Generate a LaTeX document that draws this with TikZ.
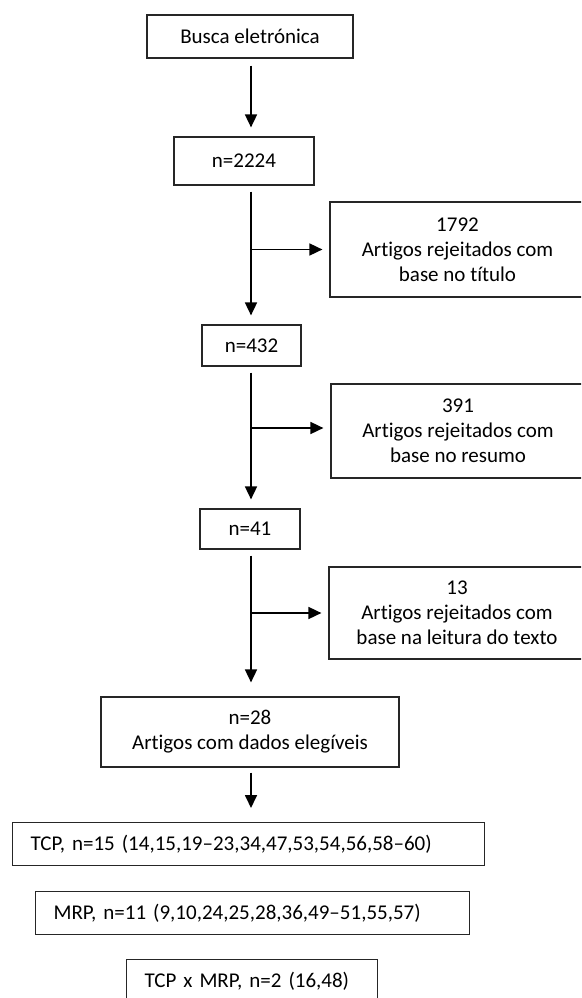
\documentclass[tikz,border=0pt]{standalone}
\usepackage{fontspec}
\setmainfont[Ligatures=NoCommon]{Carlito}
\usetikzlibrary{arrows.meta}
\frenchspacing
\begin{document}
\begin{tikzpicture}[x=1pt,y=-1pt,
  box/.style={draw=black!85, line width=1.2pt, inner sep=0pt, align=center, font=\fontsize{21}{25}\selectfont\frenchspacing},
  lbox/.style={box, anchor=north west, align=left, inner xsep=18pt, minimum height=43pt},
  arr/.style={line width=1.7pt, -{Triangle[length=13pt,width=12pt]}}]
\useasboundingbox (0,0) rectangle (581,998);
\clip (0,0) rectangle (581,998);
\coordinate (sp) at (251,0);
\node[box, minimum width=206pt, minimum height=43pt] (b1) at (250,36.5) {Busca eletrónica};
\node[box, minimum width=140pt, minimum height=48pt] (b2) at (244,161) {n=2224};
\node[box, minimum width=99pt, minimum height=41pt] (b3) at (251.5,345.5) {n=432};
\node[box, minimum width=100pt, minimum height=40pt] (b4) at (250,529) {n=41};
\node[box, minimum width=298pt, minimum height=70pt] (b5) at (250,732) {n=28\\Artigos com dados elegíveis};
\node[box, minimum width=255pt, minimum height=95pt] (s1) at (457.5,249.5) {1792\\Artigos rejeitados com\\base no título};
\node[box, minimum width=254pt, minimum height=94pt] (s2) at (458,431) {391\\Artigos rejeitados com\\base no resumo};
\node[box, minimum width=256pt, minimum height=92pt] (s3) at (457,613) {13\\Artigos rejeitados com\\base na leitura do texto};
\node[lbox, text width=436pt] (t1) at (12,822) {TCP, n=15 (14,15,19–23,34,47,53,54,56,58–60)};
\node[lbox, text width=398pt] (t2) at (35,891) {MRP, n=11 (9,10,24,25,28,36,49–51,55,57)};
\node[lbox, text width=215pt] (t3) at (126,959) {TCP x MRP, n=2 (16,48)};
\draw[arr, shorten <=7pt, shorten >=9pt] (b1.south -| sp) -- (b2.north -| sp);
\draw[arr, shorten <=6pt, shorten >=9pt] (b2.south -| sp) -- (b3.north -| sp);
\draw[arr, shorten <=6pt, shorten >=9pt] (b3.south -| sp) -- (b4.north -| sp);
\draw[arr, shorten <=6pt, shorten >=14pt] (b4.south -| sp) -- (b5.north -| sp);
\draw[arr, shorten <=5pt, shorten >=14pt] (b5.south -| sp) -- (t1.north -| sp);
\draw[arr, shorten >=7pt] (sp |- s1.west) -- (s1.west);
\draw[arr, shorten >=7pt] ([yshift=3pt]sp |- s2.west) -- ([yshift=3pt]s2.west);
\draw[arr, shorten >=7pt] (sp |- s3.west) -- (s3.west);
\end{tikzpicture}
\end{document}
